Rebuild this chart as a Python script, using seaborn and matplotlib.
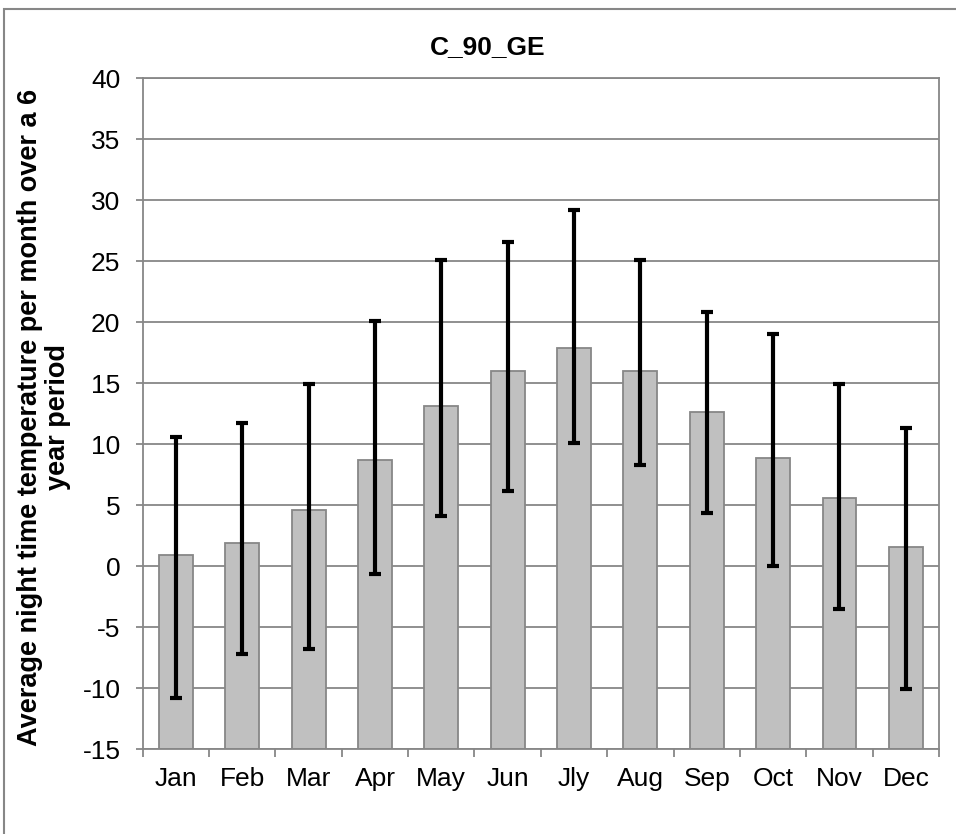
import pandas as pd
import matplotlib.pyplot as plt
import matplotlib.patches as mpatches
import seaborn as sns

# values
months = ["Jan", "Feb", "Mar", "Apr", "May", "Jun", "Jly", "Aug", "Sep", "Oct", "Nov", "Dec"]
mean_temp = [0.9, 1.9, 4.6, 8.7, 13.1, 16.0, 17.9, 16.0, 12.6, 8.9, 5.6, 1.6]
err_high = [10.6, 11.7, 14.9, 20.1, 25.1, 26.6, 29.2, 25.1, 20.8, 19.0, 14.9, 11.3]
err_low = [-10.8, -7.2, -6.8, -0.6, 4.1, 6.2, 10.1, 8.3, 4.4, 0.0, -3.5, -10.1]
y_ticks = list(range(-15, 41, 5))
Y_MIN, Y_MAX = -15, 40

sns.set_style("white")
plt.rcParams['font.family'] = ['Liberation Sans', 'DejaVu Sans']
plt.rcParams['axes.unicode_minus'] = False
plt.rcParams['text.color'] = 'black'
plt.rcParams['xtick.color'] = 'black'
plt.rcParams['ytick.color'] = 'black'

df = pd.DataFrame({"month": months, "temp": mean_temp})

GRID = "#878787"
FS = 19

fig = plt.figure(figsize=(9.56, 8.34), dpi=100)
ax = fig.add_axes([142.7 / 956, 1 - 749.3 / 834, 796.3 / 956, 671.3 / 834])

sns.barplot(data=df, x="month", y="temp", color="#c0c0c0", saturation=1,
            width=0.51, edgecolor=GRID, linewidth=1.3, errorbar=None, ax=ax)

# Excel-style: bars rise from the axis floor (-15), not from zero
for p, v in zip(ax.patches, mean_temp):
    p.set_y(Y_MIN)
    p.set_height(v - Y_MIN)

# asymmetric error bars on the bar centres
centres = [p.get_x() + p.get_width() / 2 for p in ax.patches]
lo = [m - l for m, l in zip(mean_temp, err_low)]
hi = [h - m for m, h in zip(mean_temp, err_high)]
ax.errorbar(centres, mean_temp, yerr=[lo, hi], fmt="none", ecolor="black",
            elinewidth=3, capsize=4.5, capthick=3, zorder=5)

ax.set_ylim(Y_MIN, Y_MAX)
ax.set_xlim(-0.5, len(months) - 0.5)
ax.set_yticks(y_ticks)
ax.set_axisbelow(True)
ax.yaxis.grid(True, color=GRID, linewidth=1.3)
ax.xaxis.grid(False)

for s in ax.spines.values():
    s.set_visible(True)
    s.set_color(GRID)
    s.set_linewidth(1.3)

ax.tick_params(axis="y", which="major", length=5, width=1.3, color=GRID,
               labelsize=FS, pad=11, direction="out", left=True, labelcolor="black")
ax.tick_params(axis="x", which="major", length=0, labelsize=FS, pad=13, labelcolor="black")
ax.set_xticks([i - 0.5 for i in range(len(months) + 1)], minor=True)
ax.tick_params(axis="x", which="minor", length=6, width=1.3, color=GRID,
               direction="out", bottom=True)
ax.set_xlabel("")
ax.set_ylabel("")

fig.text(44 / 956, 1 - 417 / 834,
         "Average night time temperature per month over a 6\nyear period",
         rotation=90, ha="center", va="center", fontsize=19.5, fontweight="bold",
         multialignment="center", linespacing=1.1)

fig.text(487.5 / 956, 1 - 47.5 / 834, "C_90_GE", ha="center", va="center",
         fontsize=19, fontweight="bold")

# outer chart-area border (clipped by the image edge on the right and bottom)
fig.add_artist(mpatches.Rectangle((4 / 956, -0.1), 2, 1 - 9 / 834 + 0.1,
                                  transform=fig.transFigure, fill=False,
                                  edgecolor=GRID, linewidth=1.5))

fig.savefig("out.png", dpi=100)
